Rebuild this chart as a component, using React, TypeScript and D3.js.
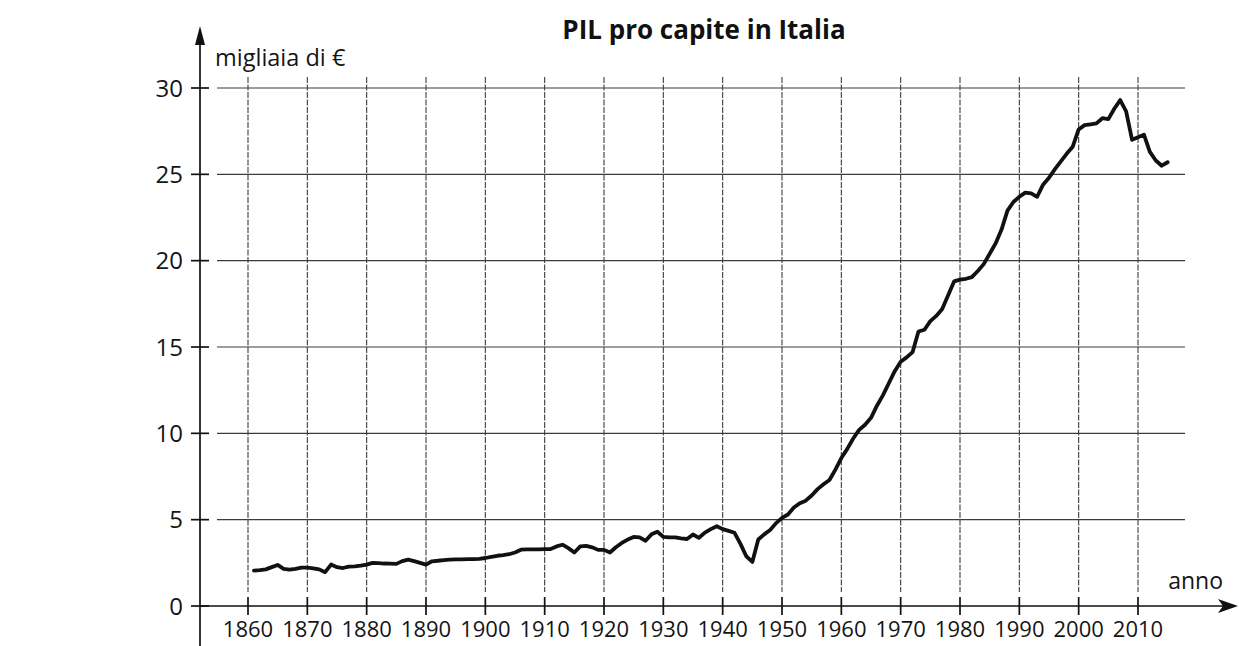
import React from "react";
import * as d3 from "d3";

const years: number[] = d3.range(1861, 2016);
const gdp: number[] = [
  2.05, 2.08, 2.12, 2.25, 2.38, 2.15, 2.1, 2.15, 2.22, 2.22, // 1861-1870
  2.18, 2.12, 1.96, 2.4, 2.25, 2.2, 2.28, 2.3, 2.34, 2.4, // 1871-1880
  2.5, 2.48, 2.46, 2.45, 2.44, 2.6, 2.69, 2.6, 2.5, 2.4, // 1881-1890
  2.59, 2.62, 2.66, 2.69, 2.7, 2.7, 2.71, 2.72, 2.73, 2.78, // 1891-1900
  2.85, 2.91, 2.95, 3.0, 3.1, 3.26, 3.28, 3.28, 3.28, 3.29, // 1901-1910
  3.3, 3.45, 3.55, 3.35, 3.1, 3.45, 3.48, 3.4, 3.25, 3.25, // 1911-1920
  3.1, 3.4, 3.65, 3.85, 4.0, 3.97, 3.78, 4.15, 4.3, 4.0, // 1921-1930
  3.97, 3.97, 3.92, 3.88, 4.14, 3.95, 4.25, 4.45, 4.62, 4.45, // 1931-1940
  4.35, 4.24, 3.6, 2.87, 2.55, 3.85, 4.15, 4.4, 4.8, 5.1, // 1941-1950
  5.3, 5.7, 5.95, 6.1, 6.4, 6.77, 7.05, 7.3, 7.9, 8.57, // 1951-1960
  9.1, 9.7, 10.2, 10.5, 10.9, 11.6, 12.2, 12.9, 13.6, 14.15, // 1961-1970
  14.4, 14.7, 15.9, 16.0, 16.5, 16.8, 17.2, 18.0, 18.8, 18.9, // 1971-1980
  18.95, 19.05, 19.4, 19.8, 20.4, 21.0, 21.8, 22.9, 23.4, 23.7, // 1981-1990
  23.94, 23.9, 23.7, 24.4, 24.8, 25.3, 25.75, 26.2, 26.6, 27.6, // 1991-2000
  27.85, 27.9, 27.95, 28.25, 28.2, 28.8, 29.3, 28.64, 27.0, 27.15, // 2001-2010
  27.3, 26.3, 25.8, 25.5, 25.7, // 2011-2015
];

const xTicks: number[] = d3.range(1860, 2011, 10);
const yTicks: number[] = [0, 5, 10, 15, 20, 25, 30];

const title = "PIL pro capite in Italia";
const yLabel = "migliaia di €";
const xLabel = "anno";

const W = 1239;
const H = 646;
const FONT = "'Open Sans', 'DejaVu Sans', sans-serif";

export default function App() {
  const x = d3.scaleLinear().domain([1860, 2010]).range([248, 1138]);
  const y = d3.scaleLinear().domain([0, 30]).range([606, 88]);
  const axisX = 200;
  const line = d3
    .line<number>()
    .x((_, i) => x(years[i]))
    .y((d) => y(d));

  const gridColor = "#3c3c3c";

  return (
    <svg
      width={W}
      height={H}
      style={{ position: "absolute", left: 0, top: 0, background: "#fff" }}
      fontFamily={FONT}
    >
      <rect x={0} y={0} width={W} height={H} fill="#fff" />
      {/* horizontal grid */}
      {yTicks.filter((t) => t > 0).map((t) => (
        <line key={"h" + t} x1={217} x2={1185} y1={y(t)} y2={y(t)} stroke={gridColor} strokeWidth={1.1} />
      ))}
      {/* vertical grid */}
      {xTicks.map((t) => (
        <line key={"v" + t} x1={x(t)} x2={x(t)} y1={77} y2={592} stroke={gridColor} strokeWidth={1.1} strokeDasharray="6,1.5" />
      ))}
      {/* y axis */}
      <line x1={axisX} x2={axisX} y1={H} y2={34} stroke="#111" strokeWidth={1.7} />
      <path d={`M${axisX},26 L${axisX - 5},45 L${axisX + 5},45 Z`} fill="#111" />
      {yTicks.map((t) => (
        <g key={"yt" + t}>
          <line x1={191} x2={209} y1={y(t)} y2={y(t)} stroke="#111" strokeWidth={1.7} />
          <text x={183} y={y(t)} dy="0.36em" textAnchor="end" fontSize={24} fill="#151515">
            {t}
          </text>
        </g>
      ))}
      {/* x axis */}
      <line x1={axisX} x2={1228} y1={y(0)} y2={y(0)} stroke="#111" strokeWidth={1.7} />
      <path d={`M1238,${y(0)} L1218,${y(0) - 7} L1223,${y(0)} L1218,${y(0) + 7} Z`} fill="#111" />
      {xTicks.map((t) => (
        <g key={"xt" + t}>
          <line x1={x(t)} x2={x(t)} y1={y(0) - 9} y2={y(0) + 9} stroke="#111" strokeWidth={1.7} />
          <text x={x(t)} y={637} textAnchor="middle" fontSize={22} fill="#151515">
            {t}
          </text>
        </g>
      ))}
      {/* data line */}
      <path d={line(gdp) || ""} fill="none" stroke="#111" strokeWidth={3.8} strokeLinejoin="round" strokeLinecap="round" />
      {/* labels */}
      <text x={704} y={39} textAnchor="middle" fontSize={26} fontWeight="bold" fill="#111">
        {title}
      </text>
      <text x={215} y={66} fontSize={23.5} fill="#151515">
        {yLabel}
      </text>
      <text x={1223} y={589} textAnchor="end" fontSize={23} fill="#151515">
        {xLabel}
      </text>
    </svg>
  );
}
